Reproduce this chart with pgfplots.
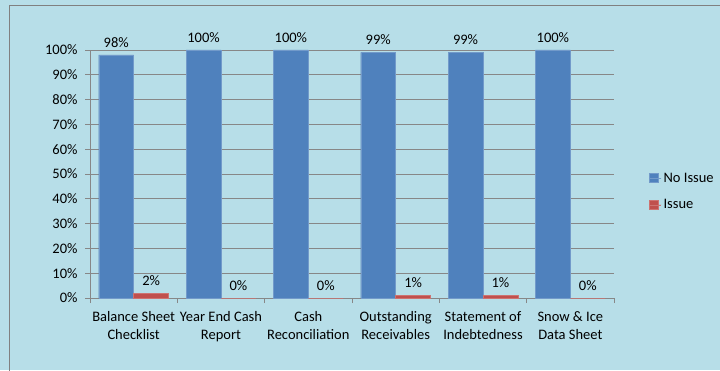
\documentclass[border=0pt]{standalone}
\usepackage{pgfplots}
\pgfplotsset{compat=1.18}
\usepackage{fontspec}
\setmainfont{Carlito}
\definecolor{bgblue}{HTML}{B7DEE8}
\definecolor{noissue}{HTML}{4F81BD}
\definecolor{issue}{HTML}{C0504D}
\definecolor{gridgray}{HTML}{878787}
\definecolor{framegray}{HTML}{808080}
\begin{document}
\begin{tikzpicture}[x=1bp,y=1bp]
\useasboundingbox (0,0) rectangle (720,370);
\fill[bgblue] (0,0) rectangle (720,370);
\draw[framegray, line width=1.2bp] (9.5,-5) -- (9.5,364.5) -- (725,364.5);
\begin{axis}[
  at={(90bp,72bp)}, anchor=south west,
  scale only axis, width=524bp, height=248bp,
  font=\fontsize{14.5bp}{18bp}\selectfont,
  /pgf/number format/assume math mode=true,
  ybar, bar width=0.4,
  xmin=-0.5, xmax=5.5, ymin=0, ymax=100,
  xtick={-0.5,0.5,...,5.5}, xticklabels={},
  extra x ticks={0,1,2,3,4,5},
  extra x tick labels={{Balance Sheet\\Checklist},{Year End Cash\\Report},{Cash\\Reconciliation},{Outstanding\\Receivables},{Statement of\\Indebtedness},{Snow \& Ice\\Data Sheet}},
  extra x tick style={major tick length=0pt, tick label style={align=center, yshift=-10bp}, grid=none},
  ytick={0,10,...,100},
  yticklabel={\pgfmathprintnumber{\tick}\%},
  ymajorgrids, grid style={gridgray, line width=0.9bp},
  axis line style={gridgray, line width=0.9bp},
  axis x line*=bottom, axis y line*=left,
  x axis line style={-}, y axis line style={-},
  tick style={gridgray, line width=0.9bp},
  major tick length=5bp,
  xtick pos=bottom, ytick pos=left,
  tick align=outside,
  yticklabel style={xshift=-4bp},
  nodes near coords={\pgfmathprintnumber{\pgfplotspointmeta}\%},
  every node near coord/.append style={font=\fontsize{14.5bp}{18bp}\selectfont, anchor=south, yshift=4bp},
  legend style={at={(1,0.5)}, anchor=west, xshift=32bp, yshift=-17.5bp, draw=none, fill=none,
    font=\fontsize{14.5bp}{18bp}\selectfont, row sep=12bp},
  legend cell align=left,
  legend image code/.code={\fill[#1] (0bp,-4.5bp) rectangle (9bp,4.5bp); \path (0bp,0bp) -- (12bp,0bp);},
]
\addplot[fill=noissue, draw=noissue!80!white, bar shift=-0.2] coordinates {(0,98) (1,100) (2,100) (3,99) (4,99) (5,100)};
\addplot[fill=issue, draw=issue!80!white, bar shift=0.2] coordinates {(0,2) (1,0) (2,0) (3,1) (4,1) (5,0)};
\legend{No Issue, Issue}
\end{axis}
\end{tikzpicture}
\end{document}
